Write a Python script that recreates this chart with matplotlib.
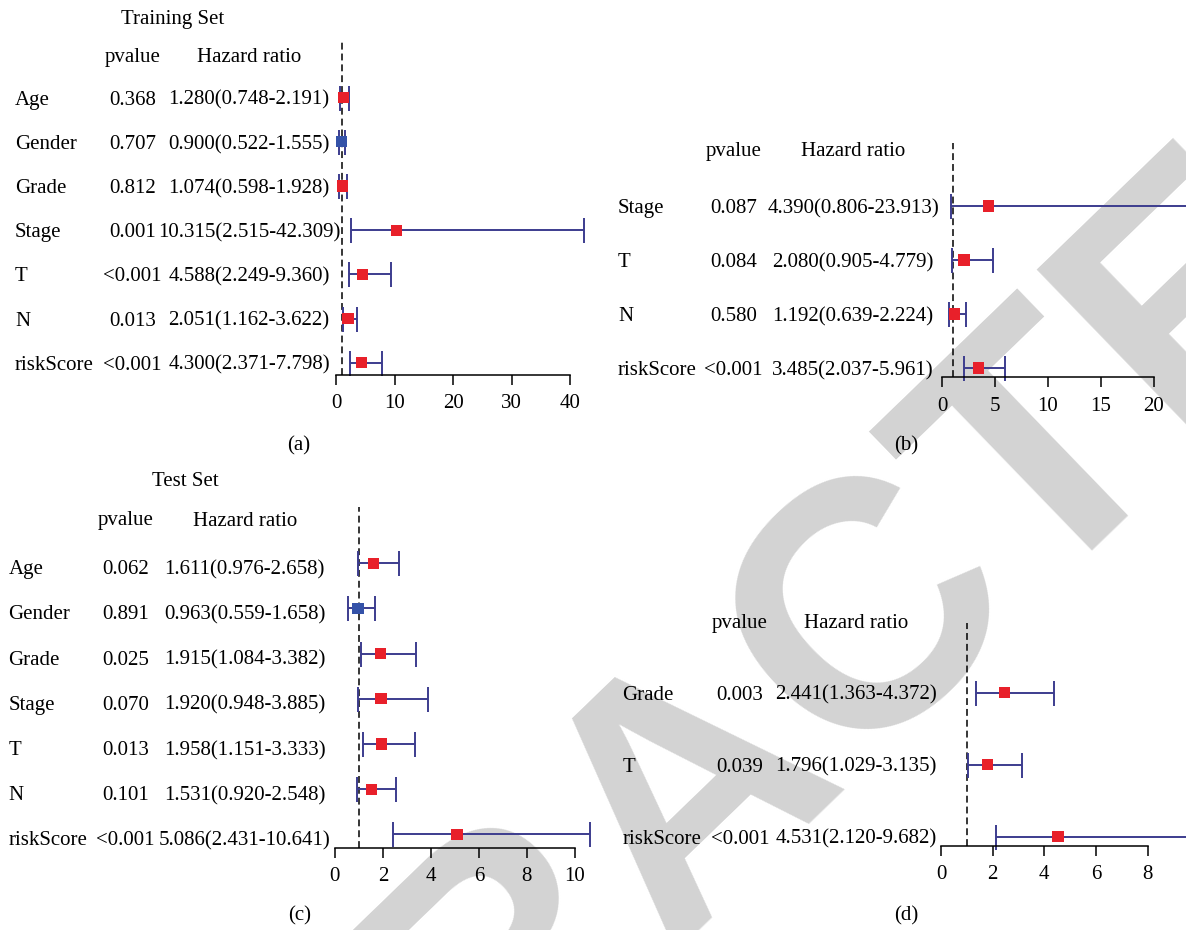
import matplotlib
matplotlib.use("Agg")
import matplotlib.pyplot as plt
from matplotlib.transforms import blended_transform_factory, offset_copy

plt.rcParams['font.family'] = ['Liberation Serif', 'DejaVu Serif']

# ---- data -------------------------------------------------------------
train_uni_vars = ["Age", "Gender", "Grade", "Stage", "T", "N", "riskScore"]
train_uni_p = ["0.368", "0.707", "0.812", "0.001", "<0.001", "0.013", "<0.001"]
train_uni_hr = [1.280, 0.900, 1.074, 10.315, 4.588, 2.051, 4.300]
train_uni_lo = [0.748, 0.522, 0.598, 2.515, 2.249, 1.162, 2.371]
train_uni_hi = [2.191, 1.555, 1.928, 42.309, 9.360, 3.622, 7.798]
train_uni_ticks = [0, 10, 20, 30, 40]

train_multi_vars = ["Stage", "T", "N", "riskScore"]
train_multi_p = ["0.087", "0.084", "0.580", "<0.001"]
train_multi_hr = [4.390, 2.080, 1.192, 3.485]
train_multi_lo = [0.806, 0.905, 0.639, 2.037]
train_multi_hi = [23.913, 4.779, 2.224, 5.961]
train_multi_ticks = [0, 5, 10, 15, 20]

test_uni_vars = ["Age", "Gender", "Grade", "Stage", "T", "N", "riskScore"]
test_uni_p = ["0.062", "0.891", "0.025", "0.070", "0.013", "0.101", "<0.001"]
test_uni_hr = [1.611, 0.963, 1.915, 1.920, 1.958, 1.531, 5.086]
test_uni_lo = [0.976, 0.559, 1.084, 0.948, 1.151, 0.920, 2.431]
test_uni_hi = [2.658, 1.658, 3.382, 3.885, 3.333, 2.548, 10.641]
test_uni_ticks = [0, 2, 4, 6, 8, 10]

test_multi_vars = ["Grade", "T", "riskScore"]
test_multi_p = ["0.003", "0.039", "<0.001"]
test_multi_hr = [2.441, 1.796, 4.531]
test_multi_lo = [1.363, 1.029, 2.120]
test_multi_hi = [4.372, 3.135, 9.682]
test_multi_ticks = [0, 2, 4, 6, 8]

# ---- style --------------------------------------------------------------
W, H = 1186, 930
RED = "#E8202A"
BLUE = "#3452A8"
BAR = "#3C3C8E"
FS = 15
TEXT_DY = 2.5  # nudges text centres down a little (pixels)

fig = plt.figure(figsize=(W / 100, H / 100), dpi=100)
fig.patch.set_facecolor("white")

# background stamp across the sheet
fig.text(692 / W, 1 - 788 / H, "RETRACTED", family="Liberation Sans",
         fontweight="bold", fontsize=252, color="#d3d3d3", rotation=44,
         rotation_mode="anchor", ha="center", va="center", zorder=-5)


def fx(px):
    return px / W


def fy(py):
    return 1 - (py + TEXT_DY) / H


def forest(vars_, pvals, hr, lo, hi, ticks, g, title=None, tag=""):
    n = len(vars_)
    xmax = max(hi)
    right = g["x0"] + xmax * g["ppu"]
    ax = fig.add_axes([g["x0"] / W, 1 - g["axis_y"] / H,
                       (right - g["x0"]) / W, (g["axis_y"] - g["top_y"]) / H])
    ax.patch.set_alpha(0)
    step = (g["last_y"] - g["first_y"]) / (n - 1)
    ax.set_xlim(0, xmax)
    ax.set_ylim((g["axis_y"] - g["first_y"]) / step, (g["top_y"] - g["first_y"]) / step)

    rows = list(range(n))
    ax.axvline(1, color="black", lw=1.1, ls=(0, (4.5, 2.6)), zorder=1)
    err = [[h - l for h, l in zip(hr, lo)], [u - h for h, u in zip(hr, hi)]]
    eb = ax.errorbar(hr, rows, xerr=err, fmt="none", ecolor=BAR, elinewidth=1.4,
                     capsize=9, capthick=1.4, zorder=2)
    for art in list(eb.lines[1]) + list(eb.lines[2]):
        art.set_clip_on(False)
    colors = [RED if h > 1 else BLUE for h in hr]
    ax.scatter(hr, rows, marker="s", s=64, c=colors, zorder=3, linewidths=0,
               clip_on=False)

    for side in ("top", "right", "left"):
        ax.spines[side].set_visible(False)
    ax.spines["bottom"].set_bounds(ticks[0], ticks[-1])
    ax.spines["bottom"].set_linewidth(1.1)
    ax.set_yticks([])
    ax.set_xticks(ticks)
    ax.set_xticklabels([str(t) for t in ticks])
    ax.tick_params(axis="x", length=7, width=1.1, direction="out", labelsize=FS, pad=7)

    trans = blended_transform_factory(fig.transFigure, ax.transData)
    trans = offset_copy(trans, fig=fig, y=-(g.get("text_dy", 0) + TEXT_DY), units="dots")
    for i in rows:
        fig.text(fx(g["lab_x"]), i, vars_[i], transform=trans, ha="left",
                 va="center", fontsize=FS)
        fig.text(fx(g["p_x"]), i, pvals[i], transform=trans, ha="center",
                 va="center", fontsize=FS)
        fig.text(fx(g["hr_x"]), i, f"{hr[i]:.3f}({lo[i]:.3f}-{hi[i]:.3f})",
                 transform=trans, ha="center", va="center", fontsize=FS)
    fig.text(fx(g["p_x"]), fy(g["head_y"]), "pvalue", ha="center", va="center", fontsize=FS)
    fig.text(fx(g["hr_x"]), fy(g["head_y"]), "Hazard ratio", ha="center", va="center",
             fontsize=FS)
    if title:
        fig.text(fx(g["title_x"]), fy(g["title_y"]), title, ha="center", va="center",
                 fontsize=FS)
    fig.text(fx(g["tag_x"]), fy(g["tag_y"]), tag, ha="center", va="center", fontsize=FS)
    return ax


forest(train_uni_vars, train_uni_p, train_uni_hr, train_uni_lo, train_uni_hi,
       train_uni_ticks,
       dict(x0=336, ppu=5.85, axis_y=375, top_y=42, first_y=97.7, last_y=362.7,
            lab_x=15, p_x=132.5, hr_x=249, head_y=55, title_x=173, title_y=17,
            tag_x=299, tag_y=443),
       title="Training Set", tag="(a)")

forest(train_multi_vars, train_multi_p, train_multi_hr, train_multi_lo, train_multi_hi,
       train_multi_ticks,
       dict(x0=942, ppu=10.59, axis_y=377.3, top_y=142.7, first_y=206, last_y=368,
            lab_x=618, p_x=733.5, hr_x=853, head_y=149, tag_x=906, tag_y=443),
       tag="(b)")

forest(test_uni_vars, test_uni_p, test_uni_hr, test_uni_lo, test_uni_hi,
       test_uni_ticks,
       dict(x0=334.9, ppu=24.0, axis_y=847.7, top_y=506.7, first_y=563.3, last_y=834.3,
            lab_x=8.4, p_x=125.4, hr_x=244.7, head_y=518.5, title_x=185, title_y=479,
            tag_x=299.6, tag_y=913.3, text_dy=4),
       title="Test Set", tag="(c)")

forest(test_multi_vars, test_multi_p, test_multi_hr, test_multi_lo, test_multi_hi,
       test_multi_ticks,
       dict(x0=941.2, ppu=25.79, axis_y=845.7, top_y=623.3, first_y=692.7, last_y=836.7,
            lab_x=622.4, p_x=740, hr_x=856, head_y=621, tag_x=906.4, tag_y=913.3),
       tag="(d)")

fig.savefig("out.png", dpi=100)
